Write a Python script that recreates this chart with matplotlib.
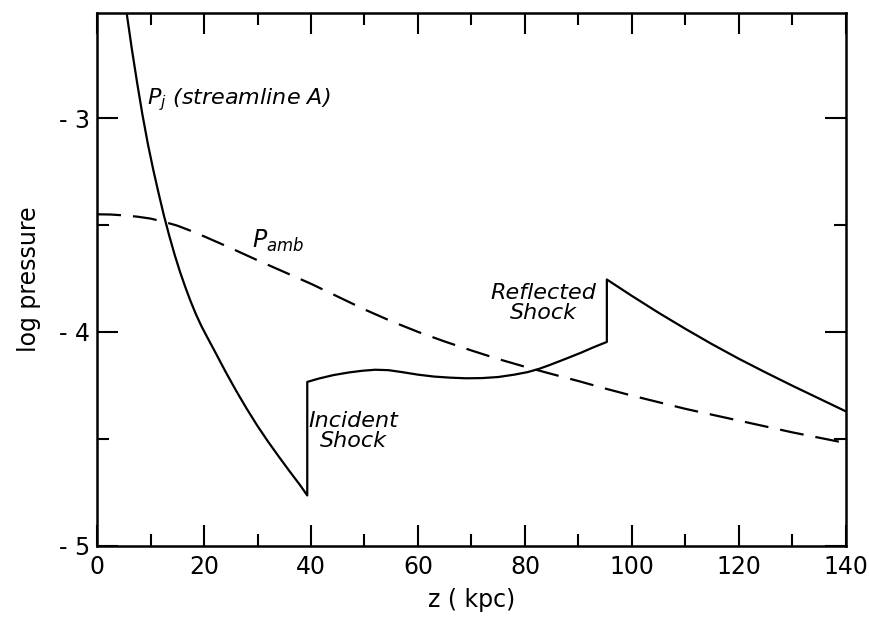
import matplotlib
matplotlib.use("Agg")
import matplotlib.pyplot as plt
from matplotlib.ticker import MultipleLocator, FixedLocator

plt.rcParams['font.family'] = ['DejaVu Sans']
plt.rcParams['mathtext.fontset'] = 'dejavusans'

# Jet pressure along streamline A (solid)
z_jet = [5.55, 6.5, 7.5, 8.5, 9.5, 10.5, 11.5, 12.5, 13.5, 14.5, 15.5, 16.5, 17.5, 18.5, 19.5, 20.5,
         22, 24, 26, 28, 30, 32, 34, 36, 38, 39.3,
         39.3, 41.5, 44.2, 47, 49.5, 52, 54.5, 57, 60, 63, 66, 69, 72, 75, 78, 80.5, 82.5, 84.5,
         87.8, 90.5, 92.8, 95.3,
         95.3, 100, 105, 110, 115, 120, 125, 130, 135, 140]
p_jet = [-2.51, -2.675, -2.835, -2.985, -3.12, -3.24, -3.35, -3.455, -3.55, -3.638, -3.718, -3.79,
         -3.857, -3.918, -3.972, -4.02,
         -4.09, -4.185, -4.275, -4.36, -4.44, -4.514, -4.584, -4.652, -4.718, -4.765,
         -4.234, -4.218, -4.202, -4.19, -4.182, -4.177, -4.179, -4.188, -4.2, -4.209, -4.214, -4.217,
         -4.216, -4.211, -4.2, -4.188, -4.174, -4.156,
         -4.124, -4.097, -4.072, -4.047,
         -3.755, -3.832, -3.911, -3.986, -4.058, -4.126, -4.19, -4.252, -4.312, -4.372]

# Ambient pressure (dashed)
z_amb = [0, 2.5, 5, 7.5, 10, 12.5, 15, 17.5, 20, 25, 30, 35, 40, 45, 50, 55, 60, 65, 70, 75, 80,
         85, 90, 95, 100, 110, 120, 130, 140]
p_amb = [-3.45, -3.451, -3.455, -3.461, -3.47, -3.485, -3.503, -3.527, -3.553, -3.608, -3.665,
         -3.72, -3.775, -3.835, -3.895, -3.95, -4.0, -4.045, -4.087, -4.127, -4.163, -4.197,
         -4.23, -4.265, -4.298, -4.36, -4.415, -4.47, -4.52]

xticks = [0, 20, 40, 60, 80, 100, 120, 140]
xticklabels = ['0', '20', '40', '60', '80', '100', '120', '140']
yticks = [-5, -4, -3]
yticklabels = ['- 5', '- 4', '- 3']

fig = plt.figure(figsize=(8.7, 6.19), dpi=100)
ax = fig.add_axes([0.1115, 0.1184, 0.8609, 0.8601])

ax.plot(z_jet, p_jet, color='black', lw=1.6, solid_joinstyle='round')
ln, = ax.plot(z_amb, p_amb, color='black', lw=1.6)
ln.set_dashes((10.8, 5.4))

ax.set_xlim(0, 140)
ax.set_ylim(-5, -2.51)

ax.xaxis.set_major_locator(FixedLocator(xticks))
ax.set_xticklabels(xticklabels)
ax.xaxis.set_minor_locator(MultipleLocator(10))
ax.yaxis.set_major_locator(FixedLocator(yticks))
ax.set_yticklabels(yticklabels)
ax.yaxis.set_minor_locator(MultipleLocator(0.5))

ax.tick_params(which='both', direction='in', top=True, right=True, width=1.5, labelsize=17)
ax.tick_params(which='major', length=15)
ax.tick_params(which='minor', length=8.5)
ax.tick_params(axis='x', which='major', pad=7)
ax.tick_params(axis='y', which='major', pad=5)
for s in ax.spines.values():
    s.set_linewidth(1.8)

ax.set_xlabel('z ( kpc)', fontsize=17, labelpad=6)
ax.set_ylabel('log pressure', fontsize=17, labelpad=13)

ax.text(9.3, -2.913, r'$P_j$ (streamline A)', fontsize=16, style='italic', va='center', ha='left')
ax.text(29, -3.609, r'$P_{amb}$', fontsize=17, va='baseline', ha='left')
ax.text(47.9, -4.464, 'Incident\nShock', fontsize=16, style='italic', va='center', ha='center',
        linespacing=1.0)
ax.text(83.5, -3.863, 'Reflected\nShock', fontsize=16, style='italic', va='center', ha='center',
        linespacing=1.0)

fig.savefig('out.png', dpi=100)
